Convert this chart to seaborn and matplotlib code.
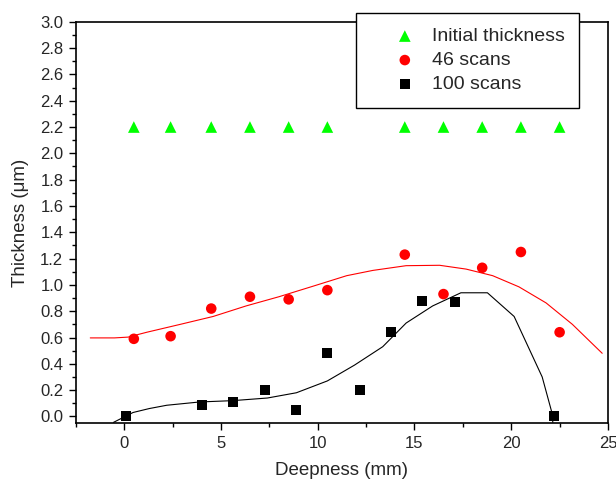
import matplotlib
matplotlib.use("Agg")
import matplotlib.pyplot as plt
from matplotlib.ticker import MultipleLocator, FormatStrFormatter
import seaborn as sns

# Data
init_x = [0.5, 2.4, 4.5, 6.5, 8.5, 10.5, 14.5, 16.5, 18.5, 20.5, 22.5]
init_y = [2.2] * 11

s46_x = [0.5, 2.4, 4.5, 6.5, 8.5, 10.5, 14.5, 16.5, 18.5, 20.5, 22.5]
s46_y = [0.59, 0.61, 0.82, 0.91, 0.89, 0.96, 1.23, 0.93, 1.13, 1.25, 0.64]

s100_x = [0.1, 4.0, 5.6, 7.3, 8.9, 10.5, 12.2, 13.8, 15.4, 17.1, 22.2]
s100_y = [0.0, 0.09, 0.11, 0.20, 0.05, 0.48, 0.20, 0.64, 0.88, 0.87, 0.0]

fit46_x = [-1.75, -0.5, 0.2, 1.17, 2.9, 4.6, 6.3, 8.0, 9.76, 11.5, 12.85, 14.57, 16.3,
           17.67, 19.04, 20.4, 21.8, 23.16, 24.7]
fit46_y = [0.597, 0.597, 0.603, 0.64, 0.70, 0.76, 0.84, 0.91, 0.99, 1.07, 1.11, 1.146, 1.149,
           1.12, 1.07, 0.985, 0.863, 0.70, 0.48]

fit100_x = [-0.55, 0.46, 1.3, 2.2, 3.9, 5.6, 7.4, 8.9, 10.5, 11.9, 13.36, 14.57, 15.94, 17.4,
            18.77, 20.15, 21.6, 22.1, 22.15]
fit100_y = [-0.045, 0.03, 0.06, 0.085, 0.11, 0.12, 0.14, 0.18, 0.27, 0.39, 0.53, 0.71, 0.84, 0.94,
            0.94, 0.76, 0.30, 0.03, -0.045]

sns.set_theme(style="ticks")
plt.rcParams['font.family'] = ['Liberation Sans', 'DejaVu Sans']

fig = plt.figure(figsize=(6.16, 4.84), dpi=100)
ax = fig.add_axes([0.123, 0.126, 0.864, 0.829])

sns.lineplot(x=fit46_x, y=fit46_y, ax=ax, color='#ff0000', linewidth=0.8, sort=False, legend=False)
sns.lineplot(x=fit100_x, y=fit100_y, ax=ax, color='black', linewidth=0.8, sort=False, legend=False)

sns.scatterplot(x=init_x, y=init_y, ax=ax, marker='^', color='#00ff00', s=70, edgecolor='none',
                label='Initial thickness')
sns.scatterplot(x=s46_x, y=s46_y, ax=ax, marker='o', color='#ff0000', s=58, edgecolor='none',
                label='46 scans')
sns.scatterplot(x=s100_x, y=s100_y, ax=ax, marker='s', color='black', s=52, edgecolor='none',
                label='100 scans')

ax.set_xlim(-2.5, 25)
ax.set_ylim(-0.05, 3.0)
ax.xaxis.set_major_locator(MultipleLocator(5))
ax.xaxis.set_minor_locator(MultipleLocator(2.5))
ax.yaxis.set_major_locator(MultipleLocator(0.2))
ax.yaxis.set_minor_locator(MultipleLocator(0.1))
ax.yaxis.set_major_formatter(FormatStrFormatter('%.1f'))
ax.tick_params(axis='both', which='major', direction='out', length=5, width=1, labelsize=12,
               color='black', pad=4)
ax.tick_params(axis='both', which='minor', direction='out', length=3, width=1, color='black')
for sp in ax.spines.values():
    sp.set_visible(True)
    sp.set_linewidth(1.2)
    sp.set_color('black')

ax.set_xlabel('Deepness (mm)', fontsize=13.5, labelpad=8)
ax.set_ylabel('Thickness (μm)', fontsize=13.5, labelpad=8)

leg = ax.legend(loc='upper left', bbox_to_anchor=(0.526, 1.022), fontsize=14, frameon=True,
                fancybox=False, edgecolor='black', framealpha=1, borderpad=0.75,
                handletextpad=-0.39, labelspacing=0.33, borderaxespad=0, handlelength=3.55)
leg.get_frame().set_linewidth(1.0)

fig.savefig('out.png', dpi=100)
